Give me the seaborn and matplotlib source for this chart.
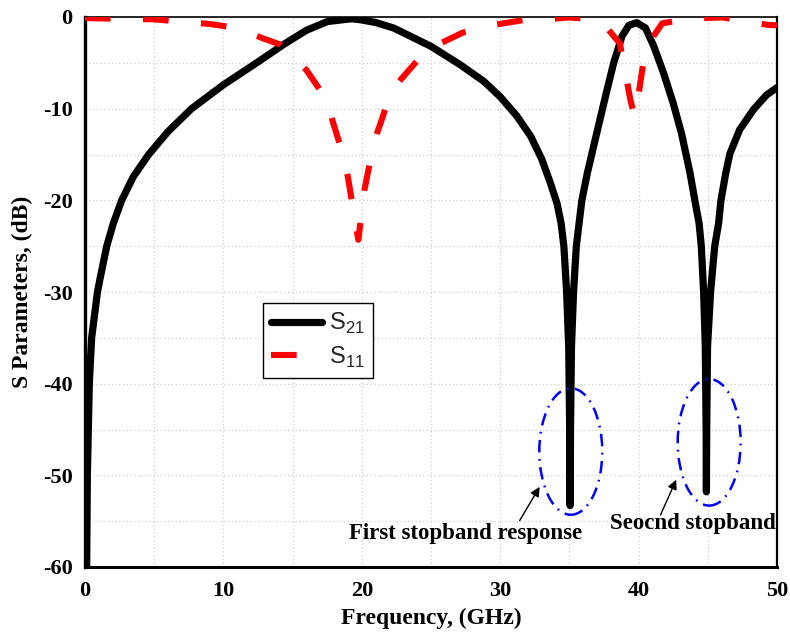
import numpy as np
import pandas as pd
import seaborn as sns
import matplotlib
matplotlib.use("Agg")
import matplotlib.pyplot as plt
from matplotlib.patches import Ellipse
from matplotlib.lines import Line2D

# Transmission coefficient S21 (GHz, dB)
freq_s21 = [0.12, 0.17, 0.24, 0.31, 0.48, 0.9, 1.08, 1.57, 2.05, 2.65, 3.5, 4.6, 6.0, 7.7,
            10.0, 12.4, 14.45, 16.0, 17.5, 18.9, 19.3, 19.9, 21.0, 22.3, 25.0, 27.1, 28.8,
            30.0, 31.2, 32.2, 33.0, 33.6, 34.1, 34.4, 34.6, 34.8, 34.95, 35.02, 35.05, 35.08,
            35.15, 35.3, 35.5, 35.7, 35.9, 36.3, 36.97, 37.6, 38.2, 38.8, 39.3, 39.86, 40.5,
            41.1, 41.8, 42.5, 43.1, 43.7, 44.1, 44.37, 44.53, 44.7, 44.82, 44.88, 44.9,
            44.92, 44.98, 45.2, 45.5, 45.78, 45.95, 46.3, 46.6, 47.3, 48.3, 49.25, 50.0]
s21_db = [-60, -50, -45, -40, -35, -30, -28.6, -25, -22.5, -20, -17.4, -15, -12.5, -10,
          -7.4, -5, -2.9, -1.45, -0.5, -0.25, -0.2, -0.3, -0.6, -1.2, -3.2, -5.2, -7.0,
          -8.7, -10.8, -13.0, -15.5, -18.0, -20.3, -22.5, -25, -30, -36, -45, -53.3, -45,
          -36, -30, -25, -22.5, -20, -17.0, -12.7, -8.7, -5.0, -2.1, -0.9, -0.62, -1.2,
          -3.2, -6.1, -9.4, -12.7, -16.9, -20.3, -22.5, -25, -30, -36, -45, -51.8,
          -45, -36, -30, -25, -22.5, -20, -17.0, -14.9, -12.3, -10.1, -8.5, -7.7]

# Reflection coefficient S11 (GHz, dB)
freq_s11 = [0.0, 0.85, 4.9, 9.0, 11.0, 12.8, 14.1, 16.0, 17.5, 17.9, 18.5, 19.0, 19.6,
            19.75, 20.2, 20.7, 21.1, 21.8, 22.6, 24.1, 25.65, 27.3, 29.5, 31.7, 33.6,
            35.0, 36.3, 37.45, 38.65, 39.4, 39.7, 39.9, 40.5, 41.7, 43.7, 46.1, 47.8,
            49.4, 50.0]
s11_db = [-0.1, -0.15, -0.25, -0.76, -1.2, -2.3, -3.0, -5.8, -9.1, -11.4, -14.3, -17.5,
          -23.0, -24.3, -18.8, -15.0, -12.7, -9.6, -7.2, -4.6, -2.9, -1.7, -0.87, -0.33,
          -0.22, -0.05, -0.2, -0.7, -2.9, -9.0, -10.8, -9.4, -3.4, -0.7, -0.15, -0.05,
          -0.5, -0.87, -0.9]

x_ticks = [0, 10, 20, 30, 40, 50]
y_ticks = [-60, -50, -40, -30, -20, -10, 0]

df21 = pd.DataFrame({"f": freq_s21, "s": s21_db})
df11 = pd.DataFrame({"f": freq_s11, "s": s11_db})

sns.set_theme(style="white")
plt.rcParams["font.family"] = ["Liberation Serif", "DejaVu Serif"]
plt.rcParams["axes.unicode_minus"] = False

fig = plt.figure(figsize=(7.9, 6.37), dpi=100)
ax = fig.add_axes([85 / 790, 1 - 567 / 637, 692 / 790, 550 / 637])

sns.lineplot(data=df21, x="f", y="s", ax=ax, color="black", lw=5.2, sort=False,
             estimator=None, solid_joinstyle="round", solid_capstyle="round", zorder=3)
sns.lineplot(data=df11, x="f", y="s", ax=ax, color="#ff0000", lw=4.4, sort=False,
             estimator=None, linestyle=(0, (4.2, 5.3)), dash_capstyle="butt", zorder=4)

ax.set_xlim(0, 50)
ax.set_ylim(-60, 0)
ax.set_xticks(x_ticks)
ax.set_yticks(y_ticks)
ax.set_xticks(np.arange(0, 51, 5), minor=True)
ax.set_yticks(np.arange(-60, 1, 5), minor=True)
ax.grid(which="both", color="#cfcfcf", linestyle=(0, (1, 2)), linewidth=0.9)
ax.set_axisbelow(True)
ax.tick_params(which="both", length=0)
ax.tick_params(axis="x", pad=10)
ax.tick_params(axis="y", pad=9)
for lab in ax.get_xticklabels() + ax.get_yticklabels():
    lab.set_fontsize(16)
    lab.set_fontweight("bold")
    lab.set_color("black")

ax.set_xlabel("Frequency, (GHz)", fontsize=17, fontweight="bold", color="black", labelpad=5)
ax.set_ylabel("S Parameters, (dB)", fontsize=17, fontweight="bold", color="black", labelpad=7)

for side, w in {"left": 2.4, "bottom": 2.2, "top": 1.2, "right": 1.6}.items():
    ax.spines[side].set_visible(True)
    ax.spines[side].set_color("black")
    ax.spines[side].set_linewidth(w)

# Stopband markers
for cx, cy in [(35.1, -47.4), (45.1, -46.4)]:
    ax.add_patch(Ellipse((cx, cy), 4.55, 13.8, fill=False, edgecolor="#0000ff", lw=1.8,
                         linestyle=(0, (5, 2.6, 0.7, 2.6)), zorder=5))

ax.annotate("", xy=(32.95, -51.0), xytext=(31.3, -55.2),
            arrowprops=dict(arrowstyle="-|>", color="black", lw=1.0, mutation_scale=14))
ax.annotate("", xy=(42.8, -50.2), xytext=(41.5, -54.6),
            arrowprops=dict(arrowstyle="-|>", color="black", lw=1.0, mutation_scale=14))
ax.text(27.5, -56.4, "First stopband response", ha="center", va="center",
        fontsize=16.5, fontweight="bold", color="black", zorder=6)
ax.text(43.95, -55.3, "Seocnd stopband", ha="center", va="center",
        fontsize=16.5, fontweight="bold", color="black", zorder=6, clip_on=False)

handles = [Line2D([], [], color="black", lw=5.2),
           Line2D([], [], color="#ff0000", lw=4.4, linestyle=(0, (4.2, 5.3)))]
leg = ax.legend(handles, [r"S$_{\mathregular{21}}$", r"S$_{\mathregular{11}}$"],
                loc="upper left", bbox_to_anchor=((263 - 85) / 692, (567 - 303) / 550),
                borderaxespad=0, frameon=True, fancybox=False, edgecolor="black",
                framealpha=1, handlelength=2.15, handletextpad=0.3, borderpad=0.35,
                labelspacing=0.35, prop={"family": "Liberation Sans", "size": 17})
leg.get_frame().set_linewidth(1.0)

fig.savefig("out.png", dpi=100, facecolor="white")
